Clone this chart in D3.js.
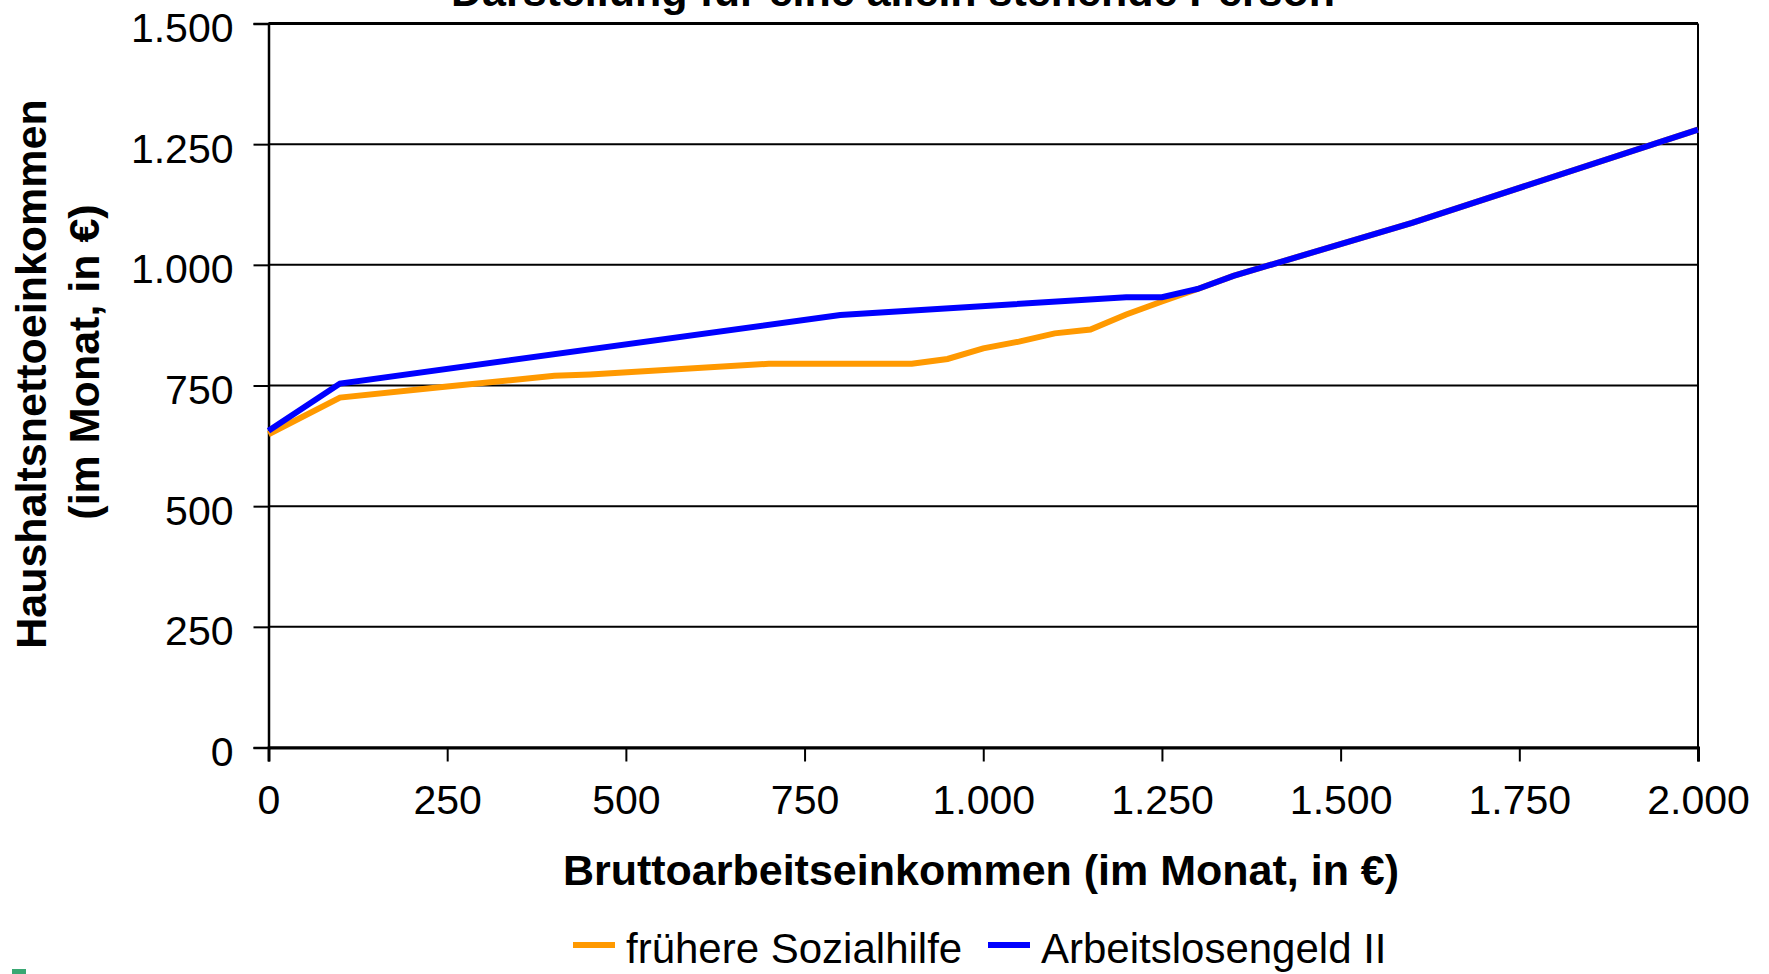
<!DOCTYPE html>
<html>
<head>
<meta charset="utf-8">
<script src="https://cdn.jsdelivr.net/npm/d3@7"></script>
<style>
  body { margin: 0; background: #fff; }
  text { font-family: "Liberation Sans", Arial, sans-serif; fill: #000; }
</style>
</head>
<body>
<div id="chart"></div>
<script>
// Data
const seriesNames = ["frühere Sozialhilfe", "Arbeitslosengeld II"];
const grossOld = [0, 100, 250, 400, 450, 700, 900, 950, 1000, 1050, 1100, 1150, 1200, 1250, 1300, 1350, 1600, 2000];
const netOld = [649, 725, 748, 770, 773, 795, 795, 805, 827, 841, 858, 866, 897, 924, 950, 977, 1087, 1280];
const grossAlg = [0, 100, 800, 1200, 1250, 1300, 1350, 1600, 2000];
const netAlg = [656, 754, 896, 933, 933, 950, 977, 1087, 1280];
const xTicks = [0, 250, 500, 750, 1000, 1250, 1500, 1750, 2000];
const yTicks = [0, 250, 500, 750, 1000, 1250, 1500];

const W = 1769, H = 974;
const margin = { top: 23.5, right: 71, bottom: 226.5, left: 268.5 };
const plotW = W - margin.left - margin.right;
const plotH = H - margin.top - margin.bottom;

const svg = d3.select("#chart").append("svg")
  .attr("width", W)
  .attr("height", H);

const g = svg.append("g")
  .attr("transform", `translate(${margin.left},${margin.top})`);

// German number format (1.500)
const de = d3.formatLocale({ decimal: ",", thousands: ".", grouping: [3], currency: ["", " €"] });
const fmt = de.format(",d");

const x = d3.scaleLinear().domain([0, 2000]).range([0, plotW]);
const y = d3.scaleLinear().domain([0, 1500]).range([plotH, 0]);

// Gridlines
g.append("g")
  .selectAll("line")
  .data(yTicks)
  .enter()
  .append("line")
  .attr("x1", 0)
  .attr("x2", plotW)
  .attr("y1", d => y(d))
  .attr("y2", d => y(d))
  .attr("stroke", "#000")
  .attr("stroke-width", d => d === 1500 ? 3 : 2);

// Right border
g.append("line")
  .attr("x1", plotW).attr("x2", plotW)
  .attr("y1", 0).attr("y2", plotH)
  .attr("stroke", "#000")
  .attr("stroke-width", 2);

// Axes
const xAxis = g.append("g")
  .attr("transform", `translate(0,${plotH})`)
  .call(d3.axisBottom(x).tickValues(xTicks).tickSize(14).tickPadding(22).tickFormat(fmt));
xAxis.select(".domain").attr("stroke-width", 3);
xAxis.selectAll(".tick line").attr("stroke-width", 2);
xAxis.selectAll("text")
  .style("font-size", "41px")
  .attr("font-family", null)
  .attr("dy", null)
  .attr("y", 66);

const yAxis = g.append("g")
  .call(d3.axisLeft(y).tickValues(yTicks).tickSize(15).tickPadding(20).tickFormat(fmt));
yAxis.select(".domain").attr("stroke-width", 2.5);
yAxis.selectAll(".tick line").attr("stroke-width", 2);
yAxis.selectAll("text")
  .style("font-size", "41px")
  .attr("font-family", null)
  .attr("dy", "18px");

// Lines
const line = d3.line()
  .x(d => x(d[0]))
  .y(d => y(d[1]));

const oldData = grossOld.map((v, i) => [v, netOld[i]]);
const algData = grossAlg.map((v, i) => [v, netAlg[i]]);

g.append("path")
  .datum(oldData)
  .attr("fill", "none")
  .attr("stroke", "#FF9900")
  .attr("stroke-width", 6)
  .attr("d", line);

g.append("path")
  .datum(algData)
  .attr("fill", "none")
  .attr("stroke", "#0000FF")
  .attr("stroke-width", 6)
  .attr("d", line);

// Title (cut at top edge)
svg.append("text")
  .attr("x", 893)
  .attr("y", 6)
  .attr("text-anchor", "middle")
  .style("font-size", "43px")
  .style("font-weight", "bold")
  .text("Darstellung für eine allein stehende Person");

// Axis titles
svg.append("text")
  .attr("x", 981)
  .attr("y", 885)
  .attr("text-anchor", "middle")
  .style("font-size", "43px")
  .style("font-weight", "bold")
  .text("Bruttoarbeitseinkommen (im Monat, in €)");

svg.append("text")
  .attr("transform", "translate(46,374) rotate(-90)")
  .attr("text-anchor", "middle")
  .style("font-size", "43px")
  .style("font-weight", "bold")
  .text("Haushaltsnettoeinkommen");

svg.append("text")
  .attr("transform", "translate(99,362) rotate(-90)")
  .attr("text-anchor", "middle")
  .style("font-size", "43px")
  .style("font-weight", "bold")
  .text("(im Monat, in €)");

// Legend
const legendColors = ["#FF9900", "#0000FF"];
const legendX = [573, 988];
const legend = svg.append("g");
seriesNames.forEach((name, i) => {
  legend.append("rect")
    .attr("x", legendX[i])
    .attr("y", 942)
    .attr("width", 42)
    .attr("height", 6)
    .attr("fill", legendColors[i]);
  legend.append("text")
    .attr("x", legendX[i] + 53)
    .attr("y", 963)
    .style("font-size", "42px")
    .text(name);
});

// small green mark at the bottom-left corner
svg.append("rect")
  .attr("x", 12).attr("y", 969)
  .attr("width", 14).attr("height", 5)
  .attr("fill", "#3aa873");
</script>
</body>
</html>
